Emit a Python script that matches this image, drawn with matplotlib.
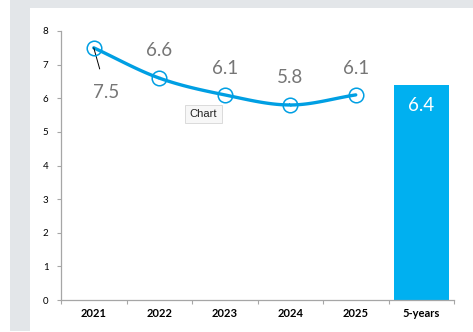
import numpy as np
import matplotlib
matplotlib.use("Agg")
import matplotlib.pyplot as plt
from matplotlib.patches import Rectangle

categories = ["2021", "2022", "2023", "2024", "2025", "5-years"]
yearly_values = [7.5, 6.6, 6.1, 5.8, 6.1]
average_value = 6.4
y_ticks = [0, 1, 2, 3, 4, 5, 6, 7, 8]

LINE_BLUE = "#009FE3"
BAR_BLUE = "#00B0F0"
LABEL_GRAY = "#767676"
AXIS_GRAY = "#A6A6A6"

plt.rcParams["font.family"] = ["Lato", "DejaVu Sans"]

W, H = 473, 332
fig = plt.figure(figsize=(W / 100, H / 100), dpi=100, facecolor="white")

# page background and white chart panel
fig.patches.append(Rectangle((10 / W, 1 / H), 463 / W, 331 / H, transform=fig.transFigure,
                             facecolor="#E3E6E9", edgecolor="none", zorder=-2))
fig.patches.append(Rectangle((30 / W, 0), 443 / W, 324 / H, transform=fig.transFigure,
                             facecolor="white", edgecolor="none", zorder=-1))

ax = fig.add_axes([61 / W, (H - 300) / H, (454 - 61) / W, (300 - 31) / H])
ax.set_facecolor("none")


def catmull_rom(xs, ys, n=30):
    """Smooth curve through the points (uniform Catmull-Rom)."""
    px = np.concatenate([[2 * xs[0] - xs[1]], xs, [2 * xs[-1] - xs[-2]]])
    py = np.concatenate([[2 * ys[0] - ys[1]], ys, [2 * ys[-1] - ys[-2]]])
    out_x, out_y = [], []
    t = np.linspace(0, 1, n)
    for i in range(1, len(px) - 2):
        p0, p1, p2, p3 = (np.array([px[j], py[j]]) for j in (i - 1, i, i + 1, i + 2))
        a = 2 * p1
        b = p2 - p0
        c = 2 * p0 - 5 * p1 + 4 * p2 - p3
        d = -p0 + 3 * p1 - 3 * p2 + p3
        pts = 0.5 * (a[:, None] + b[:, None] * t + c[:, None] * t ** 2 + d[:, None] * t ** 3)
        out_x.extend(pts[0])
        out_y.extend(pts[1])
    return np.array(out_x), np.array(out_y)


x_line = np.arange(len(yearly_values), dtype=float)
y_line = np.array(yearly_values, dtype=float)
sx, sy = catmull_rom(x_line, y_line)
ax.plot(sx, sy, color=LINE_BLUE, lw=2.4, solid_capstyle="round", zorder=3)
ax.plot(x_line, y_line, linestyle="none", marker="o", markersize=10.5,
        markerfacecolor="none", markeredgecolor=LINE_BLUE, markeredgewidth=1.1, zorder=4)

# five-year average bar
bar_x = len(categories) - 1
ax.bar(bar_x, average_value, width=0.84, color=BAR_BLUE, zorder=2)
ax.annotate(f"{average_value:.1f}", (bar_x, average_value), xytext=(0, -15),
            textcoords="offset points", ha="center", va="center",
            fontsize=13.5, color="white")

# data labels for the yearly points
label_offsets = [None, (0, 20), (0, 19), (0, 20), (0, 19)]
for i, v in enumerate(yearly_values):
    if label_offsets[i] is None:
        continue
    ax.annotate(f"{v:.1f}", (x_line[i], v), xytext=label_offsets[i],
                textcoords="offset points", ha="center", va="center",
                fontsize=13.5, color=LABEL_GRAY)

# first point label sits below, connected by a leader line
ax.annotate(f"{yearly_values[0]:.1f}", (x_line[0], yearly_values[0]), xytext=(9, -32),
            textcoords="offset points", ha="center", va="center",
            fontsize=13.5, color=LABEL_GRAY,
            arrowprops=dict(arrowstyle="-", color="black", lw=0.7,
                            shrinkA=9, shrinkB=0))

ax.set_xlim(-0.5, len(categories) - 0.5)
ax.set_ylim(0, 8)
ax.set_yticks(y_ticks)
ax.set_yticklabels([str(t) for t in y_ticks], fontsize=7)
ax.set_xticks(range(len(categories)))
ax.set_xticklabels(categories, fontsize=8, fontweight="bold")
ax.set_xticks(np.arange(-0.5, len(categories), 1.0), minor=True)

for side in ("top", "right"):
    ax.spines[side].set_visible(False)
for side in ("left", "bottom"):
    ax.spines[side].set_color(AXIS_GRAY)
    ax.spines[side].set_linewidth(0.9)

ax.tick_params(axis="y", length=3, width=0.8, color=AXIS_GRAY, pad=6, labelcolor="black")
ax.tick_params(axis="x", which="major", length=0, pad=6, labelcolor="black")
ax.tick_params(axis="x", which="minor", length=3, width=0.8, color=AXIS_GRAY)

# hover caption
fig.text(203.5 / W, 1 - 114 / H, "Chart", ha="center", va="center", fontsize=8,
         family=["Liberation Sans", "DejaVu Sans"], color="#222222",
         bbox=dict(boxstyle="square,pad=0.4", facecolor="#F7F7F7",
                   edgecolor="#D6D6D6", linewidth=0.6))

fig.savefig("out.png", dpi=100, facecolor="white")
